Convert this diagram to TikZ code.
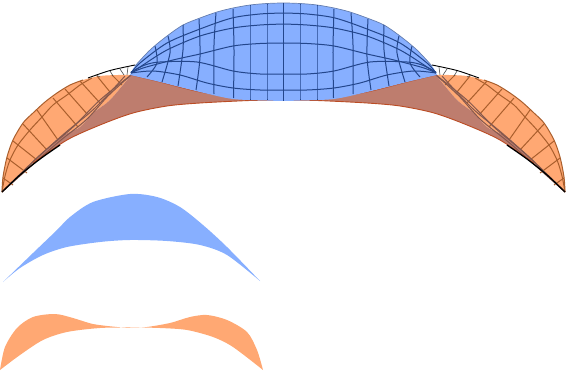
\documentclass[tikz,border=0pt]{standalone}
\usepackage{tikz}
\definecolor{domeblue}{RGB}{135,175,255}
\definecolor{wingorange}{RGB}{255,168,115}
\definecolor{overlapbrown}{RGB}{190,125,110}
\definecolor{bluegrid}{RGB}{35,70,140}
\definecolor{orangegrid}{RGB}{170,95,45}
\begin{document}
\begin{tikzpicture}[
    x=1pt, y=-1pt,
    dome/.style={fill=domeblue},
    wing/.style={fill=wingorange},
    overlap/.style={fill=overlapbrown},
    domegrid/.style={draw=bluegrid, line width=1pt, line join=round},
    winggrid/.style={draw=orangegrid, line width=1pt},
    innerline/.style={draw=overlapbrown!70!black, line width=1pt},
    rimline/.style={draw=black, line width=0.9pt},
    tmark/.style={draw=black!70, line width=0.6pt}
]
\useasboundingbox (0,0) rectangle (567,374);

% both halves of the upper figure
\foreach \sx/\dx in {1/0,-1/567}{
\begin{scope}[xshift=\dx pt, xscale=\sx]
    % orange wing
    \fill[wing] plot[smooth] coordinates {(2,192) (3,177) (7,157) (13,140) (23,123) (33,113) (45,102) (57,93) (70,85) (83,80) (100,76) (118,75) (131,75)}
        -- plot[smooth] coordinates {(131,75) (110,100) (93,113) (80,127) (60,137) (43,153) (23,173) (2,192)} -- cycle;
    % wing grid
    \foreach \ax/\ay/\bx/\by in {3/178/13/185, 7/158/27/173, 13/141/37/160, 23/124/47/150, 37/110/58/140, 53/98/78/127, 65/89/88/115, 80/81/100/103, 97/76/110/92, 112/75/122/85}
        \draw[winggrid] (\ax,\ay) -- (\bx,\by);
    \draw[winggrid] plot[smooth] coordinates {(2,192) (3,177) (7,157) (13,140) (23,123) (33,113) (45,102) (57,93) (70,85) (83,80)};
    \draw[winggrid] plot[smooth] coordinates {(2,192) (5,176) (10,160) (18,145) (30,130) (42,117) (53,105) (67,95) (80,85) (92,78)};
    % brown part
    \fill[overlap] plot[smooth] coordinates {(131,75) (110,100) (93,113) (80,127) (60,137) (43,153) (23,173) (2,192)}
        -- plot[smooth] coordinates {(2,192) (33,163) (67,140) (100,125) (133,113) (167,106) (200,103) (250,100.5) (284,100)}
        -- (284,100) -- plot[smooth] coordinates {(284,100) (250,100) (200,92) (160,82) (131,75)} -- cycle;
    \draw[innerline] plot[smooth] coordinates {(131,75) (100,100) (72,128) (40,155) (2,192)};
    \draw[innerline] plot[smooth] coordinates {(125,76) (95,108) (65,133) (35,160) (2,192)};
    \draw[innerline] plot[smooth] coordinates {(131,75) (108,96) (86,120) (55,145) (2,192)};
    % lower rim
    \draw[draw=orangegrid!80!red, line width=0.9pt] plot[smooth] coordinates {(33,163) (67,140) (100,125) (133,113) (167,106) (200,103) (250,100.5) (284,100)};
    \draw[rimline, line width=1.3pt] plot[smooth] coordinates {(2,192) (20,175) (40,159) (60,145)};
    \draw[draw=orangegrid!80!red, line width=0.8pt] plot[smooth] coordinates {(131,75) (160,82) (200,92) (250,100)};
    % upper black rim past the wing
    \draw[rimline] plot[smooth] coordinates {(88,78) (110,70.5) (135,65)};
    \foreach \ax/\ay/\bx/\by in {96/75/100/77, 110/71/113/76, 120/69/124/75, 128/67/127/75}
        \draw[tmark] (\ax,\ay) -- (\bx,\by);
\end{scope}
}

% blue dome
\fill[dome] plot[smooth] coordinates {(130,75) (135,66) (150,50) (167,36) (183,25) (200,18) (217,12) (233,8) (250,5) (267,3.5) (283.5,3) (300,3.5) (317,5) (334,8) (350,12) (367,18) (384,25) (400,36) (417,50) (432,66) (437,75)}
    -- plot[smooth] coordinates {(437,75) (407,82) (367,92) (334,99) (300,100.5) (283.5,101) (267,100.5) (233,99) (200,92) (160,82) (130,75)} -- cycle;
\draw[draw=bluegrid!70, line width=0.7pt] plot[smooth] coordinates {(135,66) (150,50) (167,36) (183,25) (200,18) (217,12) (233,8) (250,5) (267,3.5) (283.5,3) (300,3.5) (317,5) (334,8) (350,12) (367,18) (384,25) (400,36) (417,50) (432,66)};

\draw[domegrid] (283.5,3) -- (283.5,101);
\foreach \sx/\dx in {1/0,-1/567}{
\begin{scope}[xshift=\dx pt, xscale=\sx]
    % dome verticals
    \foreach \ax/\ay/\mx/\my/\bx/\by in {267/4/267/50/267/100, 250/5/250/50/250/100, 233/9/234/50/233.5/98, 216/13/214/45/214/94, 199/19/200/57/196/90, 183/25/183/50/178/86, 168/36/170/53/162/82, 155/46/157/63/147/77}
        \draw[domegrid] plot[smooth] coordinates {(\ax,\ay) (\mx,\my) (\bx,\by)};
    % dome long curves
    \draw[domegrid] plot[smooth] coordinates {(131,73) (140,63) (167,43) (200,29) (232,18) (260,14) (284,13)};
    \draw[domegrid] plot[smooth] coordinates {(131,73) (143,65) (167,50) (200,36) (233,28) (260,25) (284,24)};
    \draw[domegrid] plot[smooth] coordinates {(131,73) (143,68) (173,60) (200,54) (233,46) (260,43.5) (284,43)};
    \draw[domegrid] plot[smooth] coordinates {(131,72) (145,65) (160,62) (197,62) (233,71) (260,74) (284,74)};
    \draw[domegrid] plot[smooth] coordinates {(131,73) (153,71) (180,75) (207,83) (233,88) (260,90) (284,90)};
\end{scope}
}

% blue lower shape
\fill[dome] plot[smooth] coordinates {(3,282) (33,253) (57,230) (70,217) (93,202) (130,194) (157,197) (180,207) (203,225) (227,247) (260,281)}
    -- plot[smooth] coordinates {(260,281) (227,255) (200,245) (167,241) (130,240) (100,242) (67,247) (43,255) (20,268) (3,282)} -- cycle;
% orange lower shape
\fill[wing] plot[smooth] coordinates {(0,370) (5,347) (17,328) (33,317) (55,314) (73,318) (93,324) (117,327) (132,328) (147,327) (170,323) (190,317) (207,315) (227,320) (247,332) (257,350) (263,370)}
    -- plot[smooth] coordinates {(263,370) (233,347) (213,337) (187,330) (160,328) (132,327.5) (100,328) (67,332) (43,340) (20,355) (0,370)} -- cycle;
\end{tikzpicture}
\end{document}
